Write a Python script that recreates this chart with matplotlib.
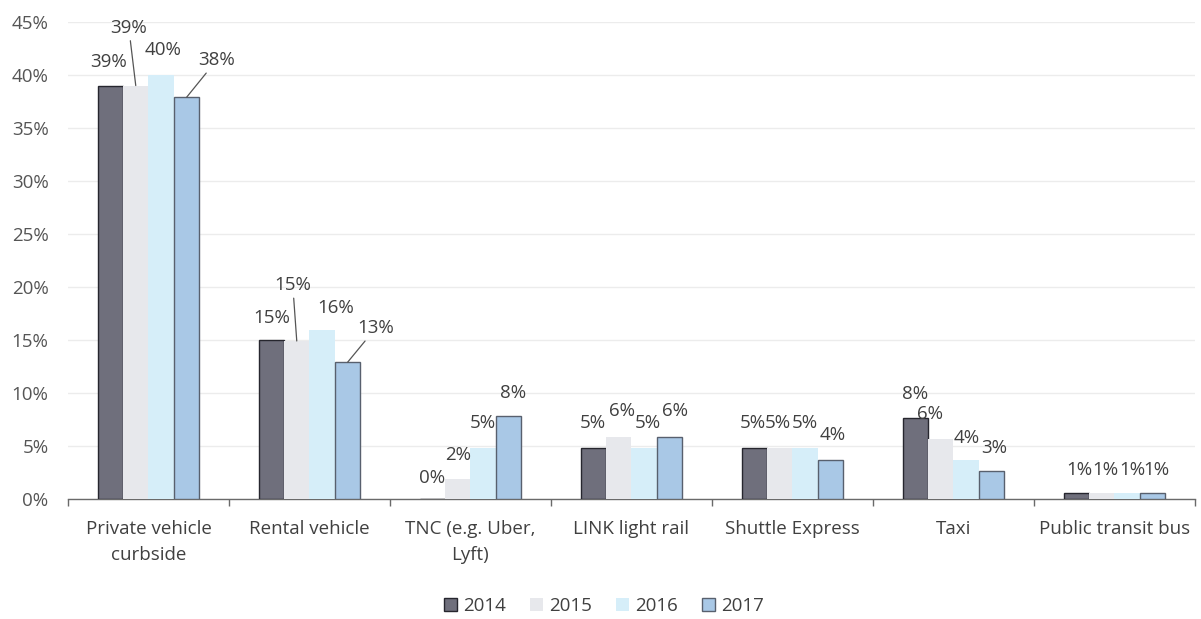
import numpy as np
import matplotlib.pyplot as plt
from matplotlib.ticker import FuncFormatter

# values (percent of passengers by ground mode)
categories = ['Private vehicle\ncurbside', 'Rental vehicle', 'TNC (e.g. Uber,\nLyft)',
              'LINK light rail', 'Shuttle Express', 'Taxi', 'Public transit bus']
years = ['2014', '2015', '2016', '2017']
share_2014 = [39.0, 15.0, 0.0, 4.8, 4.8, 7.6, 0.6]
share_2015 = [39.0, 14.9, 1.9, 5.8, 4.8, 5.7, 0.6]
share_2016 = [40.0, 15.9, 4.8, 4.8, 4.8, 3.7, 0.6]
share_2017 = [37.9, 12.9, 7.8, 5.8, 3.7, 2.6, 0.6]
yticks = [0, 5, 10, 15, 20, 25, 30, 35, 40, 45]

series = [share_2014, share_2015, share_2016, share_2017]
colors = ['#6f6f7c', '#e7e8ec', '#d6eef9', '#a9c8e6']
edges = ['#26262e', 'none', 'none', '#58606e']

# label offsets in pixels from the bar top (dx, dy)
label_off = [
    [(-2, 24), (-7, 58), (2, 25), (30, 37)],
    [(0, 22), (-4, 56), (13, 22), (28, 34)],
    [(0, 21), (0, 24), (0, 25), (4, 23)],
    [(-1, 25), (3, 26), (4, 25), (5, 26)],
    [(-2, 25), (-2, 25), (0, 25), (2, 25)],
    [(0, 24), (-11, 25), (0, 22), (3, 23)],
    [(3, 23), (4, 23), (5, 23), (4, 23)],
]
leaders = {(0, 1), (0, 3), (1, 1), (1, 3)}

plt.rcParams['font.family'] = ['Open Sans', 'DejaVu Sans']
fs = 13.5

fig = plt.figure(figsize=(12.01, 6.19), dpi=100)
ax = fig.add_axes([0.0566, 0.194, 0.9384, 0.7705])

x = np.arange(len(categories))
w = 0.158
for j, vals in enumerate(series):
    pos = x + (j - 1.5) * w
    ax.bar(pos, vals, width=w, color=colors[j], edgecolor=edges[j],
           linewidth=1.0 if edges[j] != 'none' else 0, label=years[j], zorder=3)
    for i, v in enumerate(vals):
        dx, dy = label_off[i][j]
        txt = f"{round(v):.0f}%"
        arrow = None
        if (i, j) in leaders:
            arrow = dict(arrowstyle='-', color='#555555', lw=0.9, shrinkA=1, shrinkB=0)
        ax.annotate(txt, xy=(pos[i], v), xytext=(dx, dy), textcoords='offset pixels',
                    ha='center', va='center', fontsize=fs, color='#404040',
                    arrowprops=arrow, zorder=4)

ax.set_xlim(-0.5, len(categories) - 0.5)
ax.set_ylim(0, 45)
ax.set_yticks(yticks)
ax.yaxis.set_major_formatter(FuncFormatter(lambda v, p: f"{v:.0f}%"))
ax.grid(axis='y', color='#ececec', linewidth=1.0, zorder=0)
ax.set_axisbelow(True)

for s in ['top', 'right', 'left']:
    ax.spines[s].set_visible(False)
ax.spines['bottom'].set_color('#6a6a6a')
ax.spines['bottom'].set_linewidth(1.0)

ax.set_xticks(x)
ax.set_xticklabels(categories, fontsize=fs, color='#404040', linespacing=1.6)
ax.tick_params(axis='x', length=0, pad=15)
ax.set_xticks(np.arange(len(categories) + 1) - 0.5, minor=True)
ax.tick_params(axis='x', which='minor', length=5, color='#6a6a6a', width=1)
ax.tick_params(axis='y', length=0, pad=14, labelsize=fs, labelcolor='#555555')

fig.legend(loc='center', bbox_to_anchor=(0.503, 0.021), ncol=4, frameon=False,
           fontsize=fs, handlelength=0.7, handleheight=0.7, handletextpad=0.3,
           columnspacing=1.3, labelcolor='#404040')

fig.savefig('out.png', dpi=100)
